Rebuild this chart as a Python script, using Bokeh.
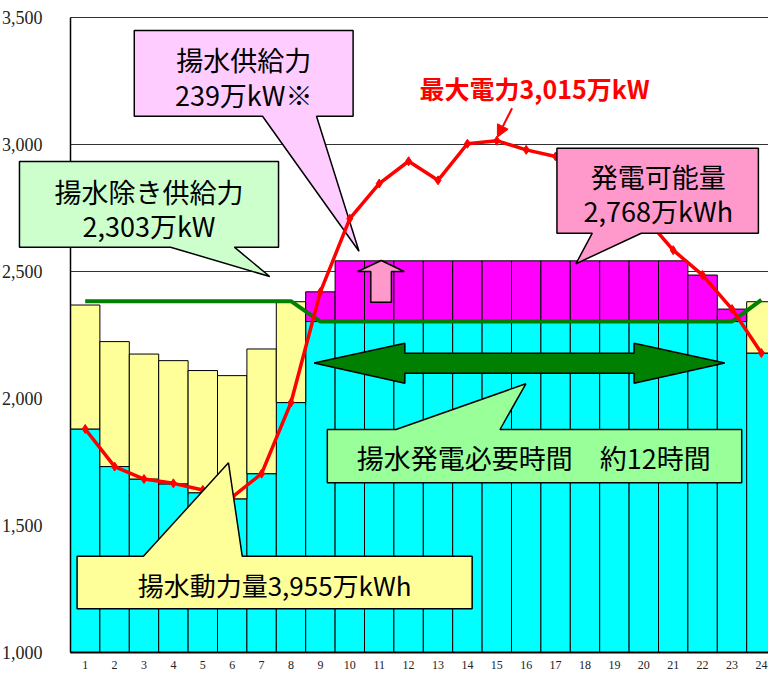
from bokeh.plotting import figure
from bokeh.models import Range1d, FixedTicker, PolyAnnotation, Label, Arrow, NormalHead
from bokeh.embed import file_html
from bokeh.resources import INLINE

# ---------------- data ----------------
hours = list(range(1, 25))
base_top = [1880, 1732, 1683, 1664, 1629, 1605, 1704, 1984] + [2303] * 15 + [2179]
pump_hours = [1, 2, 3, 4, 5, 6, 7, 8, 24]
pump_top = [2368, 2224, 2175, 2149, 2110, 2090, 2195, 2381, 2381]
gen_hours = list(range(9, 24))
gen_bottom = 2303
gen_top = [2420] + [2542] * 12 + [2486, 2352]
demand = [1880, 1732, 1683, 1666, 1640, 1612, 1704, 1984, 2420, 2708, 2846, 2934,
          2859, 3003, 3015, 2979, 2953, 2910, 2830, 2718, 2584, 2486, 2352, 2179]
supply_ex = [2383] * 8 + [2303] * 15 + [2388]
y_ticks = [1000, 1500, 2000, 2500, 3000, 3500]
y_tick_labels = ["1,000", "1,500", "2,000", "2,500", "3,000", "3,500"]
x_tick_labels = [str(h) for h in hours]

# ---------------- layout (pixels) ----------------
W, H = 768, 671
FX0, FY0 = 70, 652       # px of (x=0.5, y=1000)
XS = 29.4                # px per hour in this figure
XS_REF = 29.96           # px per hour in the reference picture (for annotation placement)
YS = 635 / 2500          # px per unit
X_START = 0.5 - FX0 / XS
X_END = 0.5 + (W - FX0) / XS
Y_START = 1000 - (H - FY0) / YS
Y_END = 3500 + 17 / YS


def dx(px):
    return 0.5 + (px - FX0) / XS_REF


def dy(py):
    return 1000 + (FY0 - py) / YS


def pts(seq):
    return [dx(a) for a, b in seq], [dy(b) for a, b in seq]


p = figure(width=W, height=H, x_range=Range1d(X_START, X_END),
           y_range=Range1d(Y_START, Y_END),
           output_backend="svg", toolbar_location=None,
           min_border_left=0, min_border_right=0, min_border_top=0, min_border_bottom=0)
p.outline_line_color = None
p.background_fill_color = "white"
p.xgrid.visible = False
p.ygrid.visible = False

# x axis drawn at y=1000
p.xaxis.fixed_location = 1000
p.xaxis.ticker = FixedTicker(ticks=hours)
p.xaxis.bounds = (0.5, X_END)
p.xaxis.major_label_overrides = {h: l for h, l in zip(hours, x_tick_labels)}
p.xaxis.major_tick_line_color = None
p.xaxis.minor_tick_line_color = None
p.xaxis.axis_line_color = "black"
p.xaxis.axis_line_width = 2
p.xaxis.major_label_standoff = 2
p.xaxis.major_label_text_font = "Liberation Sans Narrow"
p.xaxis.major_label_text_font_size = "12px"
p.xaxis.major_label_text_color = "#222222"

# y axis drawn at x=0.5
p.yaxis.fixed_location = 0.5
p.yaxis.ticker = FixedTicker(ticks=y_ticks)
p.yaxis.bounds = (1000, 3500)
p.yaxis.major_label_overrides = {t: l for t, l in zip(y_ticks, y_tick_labels)}
p.yaxis.major_tick_line_color = None
p.yaxis.minor_tick_line_color = None
p.yaxis.axis_line_color = "black"
p.yaxis.axis_line_width = 1.5
p.yaxis.major_label_standoff = 22
p.yaxis.major_label_text_font = "Liberation Sans Narrow"
p.yaxis.major_label_text_font_size = "18px"
p.yaxis.major_label_text_color = "#222222"

# horizontal gridlines
p.segment(x0=0.5, y0=y_ticks, x1=X_END, y1=y_ticks, line_color="#333333", line_width=1)

# ---------------- bars ----------------
p.vbar(x=hours, width=1, bottom=1000, top=base_top, fill_color="#00FFFF",
       line_color="black", line_width=1)
p.vbar(x=pump_hours, width=1, bottom=[base_top[h - 1] for h in pump_hours], top=pump_top,
       fill_color="#FFFF99", line_color="black", line_width=1)
p.vbar(x=gen_hours, width=1, bottom=gen_bottom, top=gen_top, fill_color="#FF00FF",
       line_color="black", line_width=1)

# supply excluding pumped storage
p.line(hours, supply_ex, color="#008000", line_width=4)

# callout 1 (pink) beneath the demand line
c1x, c1y = pts([(135, 30), (358, 30), (358, 115.7), (320.7, 115.7), (364, 250.7),
                (265.7, 115.7), (135, 115.7)])
p.patch(c1x, c1y, fill_color="#FFCCFF", line_color="black", line_width=1.5)

# demand line
p.line(hours, demand, color="#FF0000", line_width=3.5)
p.scatter(hours, demand, marker="diamond", size=9, color="#FF0000")

CJK = "Noto Sans CJK JP"
FS = "27px"


def poly(seq, fill):
    xs, ys = pts(seq)
    p.add_layout(PolyAnnotation(xs=xs, ys=ys, fill_color=fill, fill_alpha=1,
                                line_color="black", line_alpha=1, line_width=1.5))


def label(px, py, text, size=FS, color="black", style="normal"):
    p.add_layout(Label(x=dx(px), y=dy(py), text=text, text_align="center",
                       text_baseline="middle", text_font=CJK, text_font_size=size,
                       text_color=color, text_font_style=style))


poly([(18, 161), (282, 161), (282, 246.7), (237, 246.7), (273, 276), (172, 246.7),
      (18, 246.7)], "#CCFFCC")
poly([(565.7, 147.7), (771, 147.7), (771, 232.7), (651.7, 232.7), (585, 263.3),
      (601.7, 232.7), (565.7, 232.7)], "#FF99CC")
poly([(318.3, 362.5), (410.7, 342.7), (410.7, 352.7), (644.3, 352.7), (644.3, 342.7),
      (736.7, 362.5), (644.3, 382.7), (644.3, 372.7), (410.7, 372.7), (410.7, 382.7)],
     "#008000")
poly([(331.7, 429), (401.7, 429), (534, 383.3), (507.7, 429), (754, 429), (754, 482.3),
      (331.7, 482.3)], "#99FF99")
poly([(76.7, 555.7), (144.3, 555.7), (231, 462.3), (245, 555.7), (479.3, 555.7),
      (479.3, 608.3), (76.7, 608.3)], "#FFFF99")
poly([(386.7, 260), (410, 271), (397, 271), (397, 301.7), (376, 301.7), (376, 271),
      (362.7, 271)], "#FF99CC")

label(246.5, 59, "揚水供給力")
label(246.5, 94, "239万kW※")
label(150, 191, "揚水除き供給力")
label(150, 225, "2,303万kW")
label(669, 176, "発電可能量")
label(669, 210, "2,768万kWh")
label(542, 457, "揚水発電必要時間\u3000約12時間")
label(278, 584, "揚水動力量3,955万kWh", size="26px")
label(543, 87, "最大電力3,015万kW", size="25px", color="#FF0000", style="bold")

p.add_layout(Arrow(end=NormalHead(size=12, fill_color="#FF0000", line_color="#FF0000"),
                   x_start=dx(520), y_start=dy(107.7), x_end=dx(505), y_end=dy(136.7),
                   line_color="#FF0000", line_width=2))

open("out.html", "w").write(file_html(p, INLINE))
